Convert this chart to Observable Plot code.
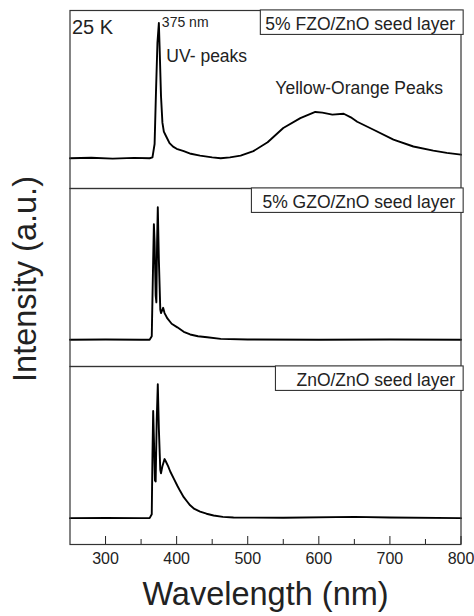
<!DOCTYPE html>
<html>
<head>
<meta charset="utf-8">
<script src="https://cdn.jsdelivr.net/npm/d3@7"></script>
<script src="https://cdn.jsdelivr.net/npm/@observablehq/plot@0.6"></script>
<style>
  html, body { margin: 0; padding: 0; background: #fff; }
  #chart { width: 474px; height: 616px; }
</style>
</head>
<body>
<div id="chart"></div>
<script>
// Photoluminescence spectra at 25 K for three seed layers (stacked panels)
const panels = ["FZO", "GZO", "ZnO"];
const panelLabels = ["5% FZO/ZnO seed layer", "5% GZO/ZnO seed layer", "ZnO/ZnO seed layer"];

const uvPeakNm = 375;

const fzoWavelength = [250, 280, 310, 340, 362, 366, 369, 371, 373, uvPeakNm, 376, 378, 380, 382, 385, 390, 395, 400, 410, 420, 433, 450, 462, 475, 490, 508, 528, 550, 574, 595, 605, 619, 635, 645, 654, 677, 705, 733, 761, 780, 800];
const fzoIntensity  = [17, 17.3, 16.8, 17.2, 17, 17.5, 25, 55, 82, 93, 80, 52, 37, 32, 29.5, 25.5, 23.5, 22.3, 21, 19.5, 18.5, 17.5, 17, 17.5, 18.5, 21, 26, 34, 39.5, 43, 42.6, 41.5, 42, 40, 37.5, 33, 27.5, 23.6, 21.3, 20, 19];

const gzoWavelength = [250, 300, 350, 362, 365, 367, 368, 369, 370.5, 371.5, 372.5, 373.5, 375, 377, 378, 380, 381, 383, 387, 393, 401, 410, 419, 430, 443, 462, 500, 600, 700, 800];
const gzoIntensity  = [15, 15.2, 15, 15, 17, 60, 80, 70, 40, 36, 70, 89.5, 60, 32, 30, 32, 33, 30, 27, 24, 22, 19.5, 18, 17, 16.4, 15.5, 15.2, 15, 15.2, 15];

const znoWavelength = [250, 300, 350, 362, 365, 366, 367, 368, 369.5, 370.5, 372, 373.5, 375, 377, 378, 380, 383, 385, 388, 391, 396, 401, 405, 410, 415, 419, 425, 433, 442, 452, 465, 480, 550, 650, 700, 800];
const znoIntensity  = [14.8, 14.9, 14.8, 14.8, 17, 50, 75, 60, 36, 35.4, 70, 90, 65, 42, 40, 44, 48, 46.5, 44, 41, 37, 33, 30, 26.6, 24, 22, 20, 18.5, 17.3, 16.3, 15.5, 15.2, 15, 15.5, 15.2, 14.8];

const majorTicks = [300, 400, 500, 600, 700, 800];
const minorTicks = [350, 450, 550, 650, 750];

// Long-format table for Plot
const spectra = [
  ...fzoWavelength.map((w, i) => ({panel: "FZO", wavelength: w, intensity: fzoIntensity[i]})),
  ...gzoWavelength.map((w, i) => ({panel: "GZO", wavelength: w, intensity: gzoIntensity[i]})),
  ...znoWavelength.map((w, i) => ({panel: "ZnO", wavelength: w, intensity: znoIntensity[i]}))
];
const labelRows = panels.map((p, i) => ({panel: p, label: panelLabels[i]}));

// Extra left padding inside each sample label box
const boxPadLeft = {"FZO": 5, "GZO": 11, "ZnO": 21};

const ink = "#222";
const chart = Plot.plot({
  width: 474,
  height: 616,
  marginLeft: 69.5,
  marginRight: 13.5,
  marginTop: 9,
  marginBottom: 72,
  style: {fontFamily: "'Liberation Sans', Arial, sans-serif", background: "#fff", color: ink, overflow: "visible"},
  x: {domain: [250, 800]},
  y: {domain: [0, 100], axis: null},
  fy: {domain: panels, axis: null, padding: 0},
  marks: [
    Plot.line(spectra, {x: "wavelength", y: "intensity", fy: "panel", z: "panel", stroke: "#000", strokeWidth: 1.9, strokeLinejoin: "round"}),
    Plot.frame({stroke: "#333", strokeWidth: 1.2}),
    Plot.axisX({ticks: majorTicks, tickSize: -8, tickPadding: 16, fontSize: 16, label: null, color: ink}),
    Plot.axisX({ticks: minorTicks, tickSize: -5, tickFormat: () => "", label: null, color: ink}),
    // sample labels (boxed after rendering)
    Plot.text(labelRows, {fy: "panel", text: "label", frameAnchor: "top-right", textAnchor: "end", lineAnchor: "top", dx: -6, dy: 7.5, fontSize: 17.5, fill: ink, className: "panel-label"}),
    // annotations in the top panel
    Plot.text([{panel: "FZO"}], {fy: "panel", text: () => "25 K", frameAnchor: "top-left", textAnchor: "start", lineAnchor: "top", dx: 2, dy: 9, fontSize: 20, fill: ink}),
    Plot.text([{panel: "FZO", x: uvPeakNm}], {fy: "panel", x: "x", text: (d) => `${d.x} nm`, frameAnchor: "top", textAnchor: "start", lineAnchor: "top", dx: 3, dy: 6.7, fontSize: 14, fill: ink}),
    Plot.text([{panel: "FZO", x: uvPeakNm}], {fy: "panel", x: "x", text: () => "UV- peaks", frameAnchor: "top", textAnchor: "start", lineAnchor: "top", dx: 7.5, dy: 39.5, fontSize: 17.5, fill: ink}),
    Plot.text([{panel: "FZO"}], {fy: "panel", text: () => "Yellow-Orange Peaks", frameAnchor: "top-right", textAnchor: "end", lineAnchor: "top", dx: -18, dy: 71, fontSize: 17.5, fill: ink}),
    // axis titles
    Plot.text([{panel: "ZnO"}], {fy: "panel", text: () => "Wavelength (nm)", frameAnchor: "bottom", textAnchor: "middle", lineAnchor: "middle", dy: 50, fontSize: 32.5, fill: ink}),
    Plot.text([{panel: "GZO"}], {fy: "panel", text: () => "Intensity (a.u.)", frameAnchor: "left", textAnchor: "middle", lineAnchor: "middle", rotate: -90, dx: -44.5, dy: 1.5, fontSize: 32.5, fill: ink})
  ]
});

document.getElementById("chart").append(chart);

// Draw a framed white box behind each sample label
const keyOf = Object.fromEntries(panelLabels.map((l, i) => [l, panels[i]]));
d3.select(chart).selectAll("g.panel-label text").each(function () {
  const b = this.getBBox();
  const padL = boxPadLeft[keyOf[this.textContent]] ?? 5;
  const rect = document.createElementNS("http://www.w3.org/2000/svg", "rect");
  rect.setAttribute("x", b.x - padL);
  rect.setAttribute("y", b.y - 4.5);
  rect.setAttribute("width", b.width + padL + 8);
  rect.setAttribute("height", b.height + 4.5);
  rect.setAttribute("fill", "#fff");
  rect.setAttribute("stroke", "#333");
  rect.setAttribute("stroke-width", 1.1);
  const t = this.getAttribute("transform");
  if (t) rect.setAttribute("transform", t);
  this.parentNode.insertBefore(rect, this);
});
</script>
</body>
</html>
